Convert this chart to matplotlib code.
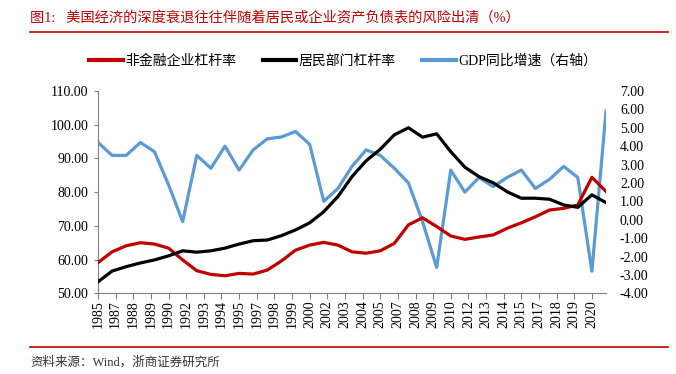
import matplotlib.pyplot as plt
from matplotlib.lines import Line2D

plt.rcParams['font.family'] = ['Liberation Serif', 'Noto Sans CJK SC']
plt.rcParams['axes.unicode_minus'] = False

# data
years = list(range(1985, 2022))
corp_lev = [59.1, 62.3, 64.1, 65.0, 64.6, 63.4, 59.9, 56.7, 55.6, 55.2,
            55.9, 55.7, 56.9, 59.6, 62.8, 64.3, 65.1, 64.3, 62.3, 61.9,
            62.6, 64.8, 70.3, 72.4, 69.8, 67.0, 66.0, 66.7, 67.3, 69.3,
            70.9, 72.7, 74.7, 75.2, 76.2, 84.4, 80.2]
house_lev = [53.4, 56.6, 57.9, 59.0, 59.9, 61.1, 62.6, 62.2, 62.6, 63.4,
             64.6, 65.6, 65.8, 67.1, 68.8, 70.9, 74.2, 78.7, 84.6, 89.3,
             92.7, 97.0, 99.1, 96.3, 97.3, 92.0, 87.4, 84.6, 82.8, 80.1,
             78.2, 78.2, 77.9, 76.2, 75.5, 79.2, 76.9]
gdp_yoy = [4.2, 3.5, 3.5, 4.2, 3.7, 1.9, -0.1, 3.5, 2.8, 4.0,
           2.7, 3.8, 4.4, 4.5, 4.8, 4.1, 1.0, 1.7, 2.9, 3.8,
           3.5, 2.8, 2.0, -0.1, -2.6, 2.7, 1.5, 2.3, 1.8, 2.3,
           2.7, 1.7, 2.2, 2.9, 2.3, -2.8, 5.9]

# x tick labels every 15 months, as in the original Excel date axis
tick_labels = ['1985', '1987', '1988', '1989', '1990', '1992', '1993', '1994',
               '1995', '1997', '1998', '1999', '2000', '2002', '2003', '2004',
               '2005', '2007', '2008', '2009', '2010', '2012', '2013', '2014',
               '2015', '2017', '2018', '2019', '2020']
tick_pos = [1985 + 1.25 * k for k in range(len(tick_labels))]

red = '#C00000'
blue = '#5B9BD5'
grey = '#808080'

fig = plt.figure(figsize=(6.76, 3.74), dpi=100)
ax = fig.add_axes([98 / 676, 1 - 293.3 / 374, (606 - 98) / 676, (293.3 - 91) / 374])
ax2 = ax.twinx()

ax.plot(years, corp_lev, color=red, lw=2.3, zorder=3)
ax.plot(years, house_lev, color='black', lw=2.3, zorder=3)
ax2.plot(years, gdp_yoy, color=blue, lw=2.3)
ax.set_zorder(ax2.get_zorder() + 1)
ax.patch.set_visible(False)

ax.set_xlim(1985, 2021)
ax.set_ylim(50, 110)
ax.set_yticks(range(50, 111, 10))
ax.set_yticklabels([f'{v:.2f}' for v in range(50, 111, 10)])
ax2.set_ylim(-4, 7)
ax2.set_yticks(range(-4, 8))
ax2.set_yticklabels([f'{v:.2f}' for v in range(-4, 8)])

ax.set_xticks(tick_pos)
ax.set_xticklabels(tick_labels, rotation=90)

for a in (ax, ax2):
    for s in ('top', 'right', 'left', 'bottom'):
        a.spines[s].set_visible(False)
ax.spines['left'].set_visible(True)
ax.spines['bottom'].set_visible(True)
ax.spines['left'].set_color(grey)
ax.spines['bottom'].set_color(grey)

ax.tick_params(axis='y', direction='out', length=3, color=grey, labelsize=10, pad=4)
ax.tick_params(axis='x', direction='out', length=4, color=grey, labelsize=10, pad=1)
ax2.tick_params(axis='y', length=0, labelsize=10, pad=10)

# legend
handles = [Line2D([], [], color=red, lw=3),
           Line2D([], [], color='black', lw=3),
           Line2D([], [], color=blue, lw=3)]
names = ['非金融企业杠杆率', '居民部门杠杆率', 'GDP同比增速（右轴）']
fig.legend(handles, names, ncol=3, loc='center', bbox_to_anchor=(0.508, 0.837),
           frameon=False, fontsize=10, handlelength=2.4, handletextpad=0.2,
           columnspacing=1.9)

# title, rules and source
fig.text(30 / 676, 1 - 18 / 374, '图1:   美国经济的深度衰退往往伴随着居民或企业资产负债表的风险出清（%）',
         color=red, fontsize=10.3, va='center', ha='left')
fig.add_artist(Line2D([30 / 676, 668 / 676], [1 - 31.5 / 374] * 2, color=red, lw=1.2))
fig.add_artist(Line2D([30 / 676, 668 / 676], [1 - 347 / 374] * 2, color=red, lw=1.2))
fig.text(30 / 676, 1 - 362 / 374, '资料来源：Wind，浙商证券研究所',
         color='#333333', fontsize=9, va='center', ha='left')

fig.savefig('out.png', dpi=100)
